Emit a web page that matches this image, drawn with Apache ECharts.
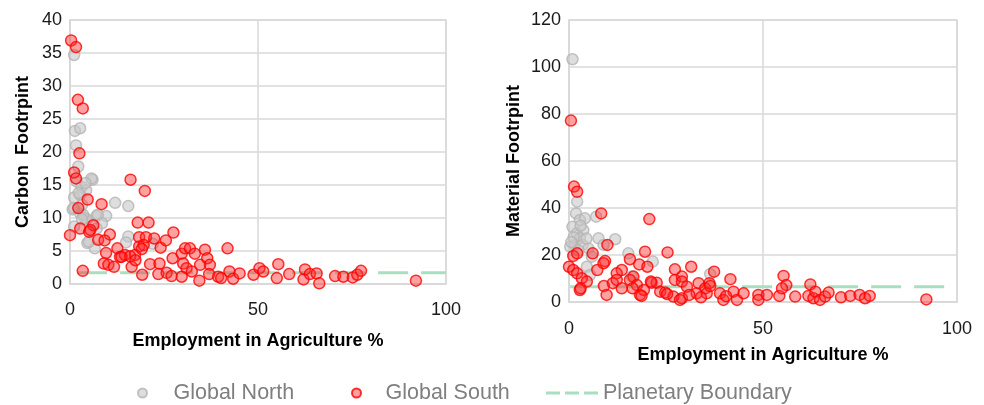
<!DOCTYPE html>
<html>
<head>
<meta charset="utf-8">
<script src="https://cdn.jsdelivr.net/npm/echarts@6/dist/echarts.min.js"></script>
<style>html,body{margin:0;padding:0;background:#fff}#c{width:984px;height:405px}</style>
</head>
<body>
<div id="c"></div>
<script>
// ---- Data ----
const seriesNames = ['Global North', 'Global South', 'Planetary Boundary'];
const xAxisName = 'Employment in Agriculture %';
const carbonAxisName = 'Carbon  Footrpint';
const materialAxisName = 'Material Footrpint';

// Carbon footprint vs employment in agriculture
const carbonNorth = [[1.1,34.7],[1.3,23.2],[2.7,23.6],[1.6,21.0],[2.2,17.8],[1.8,15.5],[3.1,14.7],[4.3,14.2],[1.1,13.1],[2.7,13.5],[6.0,15.8],[5.7,16.0],[4.1,15.3],[2.3,13.8],[0.7,11.3],[2.7,10.7],[3.9,10.0],[4.5,9.8],[7.1,10.3],[9.6,10.3],[7.4,10.5],[8.5,9.2],[12.0,12.3],[15.5,11.8],[4.6,6.2],[6.6,5.4],[5.0,6.4],[1.1,8.7],[7.1,8.4],[15.5,7.2],[14.9,6.3],[22.0,6.1],[3.5,10.5],[3.2,12.0],[1.0,11.5],[3.2,9.8]];
const carbonSouth = [[0.3,36.9],[1.6,35.9],[2.1,27.9],[3.4,26.6],[2.5,19.8],[1.1,16.9],[1.6,16.0],[4.7,12.8],[2.2,11.5],[8.4,12.1],[0,7.4],[2.7,8.4],[6.2,8.9],[5.1,7.9],[7.5,6.7],[10.6,7.5],[9.6,4.7],[9.0,3.1],[10.2,2.9],[11.7,2.6],[12.6,5.4],[13.3,4.1],[14.6,4.4],[16.1,15.8],[19.9,14.1],[18.0,9.3],[20.9,9.3],[18.4,7.1],[20.2,7.1],[22.4,6.9],[18.4,5.7],[17.3,4.4],[16.4,2.6],[19.2,1.4],[21.3,3.0],[24.1,5.5],[25.5,6.6],[27.5,7.8],[23.8,3.1],[23.5,1.5],[27.3,3.9],[29.7,4.6],[30.6,5.4],[31.9,5.4],[33.2,4.6],[30.1,3.1],[31.0,2.4],[29.7,1.1],[32.4,1.9],[35.9,5.2],[36.5,3.9],[37.2,2.9],[34.6,2.9],[34.4,0.5],[37.0,1.5],[39.4,1.1],[41.9,5.4],[42.4,1.9],[43.4,0.8],[45.1,1.6],[25.7,1.7],[27.0,1.2],[40.2,0.9],[3.4,2.0],[48.8,1.4],[50.4,2.4],[51.4,1.9],[55.4,3.0],[55.0,0.9],[58.3,1.5],[62.5,2.2],[62.1,0.7],[63.8,1.5],[65.6,1.6],[66.3,0.1],[70.5,1.2],[72.7,1.1],[75.2,1.0],[76.4,1.4],[77.4,2.0],[92.0,0.5],[5.4,8.2],[9.2,6.6],[16.0,4.2],[17.4,3.6],[19.6,5.9],[19.1,5.3],[13.7,4.1]];
const carbonBoundaryX = [1.9, 100];
const carbonBoundaryY = 1.7;

// Material footprint vs employment in agriculture
const materialNorth = [[0.9,103.3],[2.1,42.7],[1.8,37.7],[2.8,34.9],[0.9,32.0],[4.1,35.6],[2.0,29.2],[3.7,30.6],[0.3,23.5],[1.5,24.3],[2.8,27.2],[3.5,24.3],[7.0,36.3],[7.6,27.1],[11.9,26.7],[5.0,22.8],[5.9,19.3],[4.6,15.0],[15.3,20.7],[21.6,17.2],[8.9,24.3],[36.4,11.9],[5.4,11.5],[16.2,10.8],[1.2,27.5],[3.0,32.5],[0.6,25.5],[2.4,22.0],[4.5,27.0]];
const materialSouth = [[0.5,77.2],[1.3,49.1],[2.1,46.9],[8.3,37.7],[20.7,35.3],[9.9,24.3],[1.1,19.6],[2.1,20.7],[6.1,20.7],[9.3,17.4],[8.9,16.5],[19.6,21.4],[25.4,21.1],[15.7,18.2],[18.1,16.0],[20.2,15.0],[0,15.0],[1.1,13.6],[2.1,12.2],[3.3,10.1],[4.6,8.7],[2.8,5.1],[3.0,5.8],[9.0,6.8],[9.7,3.0],[13.6,13.6],[7.3,13.6],[12.3,12.2],[11.3,8.0],[12.3,9.4],[13.6,5.8],[16.6,10.8],[15.7,9.4],[17.5,7.2],[16.4,5.8],[18.3,3.0],[19.3,5.1],[21.3,8.2],[22.6,8.2],[23.5,4.4],[24.8,4.0],[27.3,13.9],[27.3,9.4],[29.1,10.8],[29.1,8.7],[31.5,15.0],[30.4,6.5],[29.1,1.6],[26.9,2.3],[28.6,0.9],[32.9,3.7],[33.4,8.0],[35.1,5.8],[35.5,3.7],[37.4,12.9],[36.2,8.0],[36.4,6.8],[38.9,3.7],[39.8,0.9],[41.6,9.7],[42.4,4.4],[43.3,0.9],[45.0,3.7],[48.8,3.0],[48.8,0.9],[51.0,3.0],[54.2,2.6],[55.3,11.1],[56.0,7.2],[54.9,5.8],[58.3,2.3],[62.2,7.5],[61.7,2.6],[63.0,1.6],[63.5,4.4],[64.7,0.9],[66.0,2.3],[66.9,4.0],[70.1,2.0],[72.5,2.6],[74.9,3.0],[76.3,1.6],[77.5,2.6],[92.1,1.1],[18.7,2.6],[25.3,3.4],[21.1,8.7],[31.0,3.0],[34.0,2.0],[40.5,2.5]];
const materialBoundaryX = [0.3, 100];
const materialBoundaryY = 6.5;

// Axis ranges / ticks
const xRange = {min: 0, max: 100, interval: 50};
const carbonRange = {min: 0, max: 40, interval: 5};
const materialRange = {min: 0, max: 120, interval: 20};

// ---- Styles ----
const FONT = 'Liberation Sans';
const gridColor = '#d9d9d9';
const northStyle = {color: 'rgba(200,200,200,0.75)', borderColor: '#b4b4b4', borderWidth: 1.5};
const southStyle = {color: 'rgba(255,40,40,0.55)', borderColor: '#ff0000', borderWidth: 1.5};
const boundaryStyle = {color: '#a8dfc0', width: 3, type: [30, 13]};

function xAxis(gridIndex) {
  return {
    type: 'value', gridIndex, min: xRange.min, max: xRange.max, interval: xRange.interval,
    name: xAxisName, nameLocation: 'middle', nameGap: gridIndex === 0 ? 48 : 44,
    nameTextStyle: {fontFamily: FONT, fontWeight: 'bold', fontSize: 18, color: '#000'},
    axisLine: {show: true, lineStyle: {color: gridColor, width: 1.5}},
    axisTick: {show: false},
    axisLabel: {fontFamily: FONT, fontSize: 18, color: '#1a1a1a', margin: gridIndex === 0 ? 17 : 18},
    splitLine: {show: true, lineStyle: {color: gridColor, width: 1.5}}
  };
}
function yAxis(gridIndex, range, name, gap) {
  return {
    type: 'value', gridIndex, min: range.min, max: range.max, interval: range.interval,
    name, nameLocation: 'middle', nameGap: gap, nameRotate: 90,
    nameTextStyle: {fontFamily: FONT, fontWeight: 'bold', fontSize: 18, color: '#000'},
    axisLine: {show: true, lineStyle: {color: gridColor, width: 1.5}},
    axisTick: {show: false},
    axisLabel: {fontFamily: FONT, fontSize: 18, color: '#1a1a1a', margin: 8},
    splitLine: {show: true, lineStyle: {color: gridColor, width: 1.5}}
  };
}
function scatter(name, data, idx, style) {
  return {
    name, type: 'scatter', xAxisIndex: idx, yAxisIndex: idx, data,
    symbol: 'circle', symbolSize: 11, itemStyle: style, z: name === seriesNames[1] ? 4 : 3,
    emphasis: {disabled: true}
  };
}
function boundary(xs, y, idx) {
  return {
    name: seriesNames[2], type: 'line', xAxisIndex: idx, yAxisIndex: idx,
    data: xs.map(x => [x, y]), symbol: 'none', lineStyle: boundaryStyle,
    itemStyle: {color: boundaryStyle.color}, z: 2, silent: true
  };
}

const legendText = {fontFamily: FONT, fontSize: 21.5, color: '#7f7f7f'};
const option = {
  animation: false,
  backgroundColor: '#fff',
  grid: [
    {left: 70, right: 538, top: 20, bottom: 121, show: true, borderColor: gridColor, borderWidth: 1.5},
    {left: 569, right: 27, top: 20, bottom: 103, show: true, borderColor: gridColor, borderWidth: 1.5}
  ],
  xAxis: [xAxis(0), xAxis(1)],
  yAxis: [yAxis(0, carbonRange, carbonAxisName, 38), yAxis(1, materialRange, materialAxisName, 46)],
  legend: [
    {data: [seriesNames[0]], left: 132, top: 377, itemWidth: 20, itemHeight: 9,
     textStyle: Object.assign({}, legendText, {padding: [0, 0, 0, 16]}), selectedMode: false},
    {data: [seriesNames[1]], left: 346, top: 377, itemWidth: 20, itemHeight: 9,
     textStyle: Object.assign({}, legendText, {padding: [0, 0, 0, 14]}), selectedMode: false},
    {data: [{name: seriesNames[2], icon: 'path://M0,0h14v3h-14z M19,0h14v3h-14z M38,0h14v3h-14z',
             itemStyle: {color: boundaryStyle.color}}],
     left: 541, top: 377, itemWidth: 52, itemHeight: 3, textStyle: legendText, selectedMode: false}
  ],
  series: [
    boundary(carbonBoundaryX, carbonBoundaryY, 0),
    scatter(seriesNames[0], carbonNorth, 0, northStyle),
    scatter(seriesNames[1], carbonSouth, 0, southStyle),
    boundary(materialBoundaryX, materialBoundaryY, 1),
    scatter(seriesNames[0], materialNorth, 1, northStyle),
    scatter(seriesNames[1], materialSouth, 1, southStyle)
  ]
};
const chart = echarts.init(document.getElementById('c'), null, {renderer: 'canvas'});
chart.setOption(option);
</script>
</body>
</html>
